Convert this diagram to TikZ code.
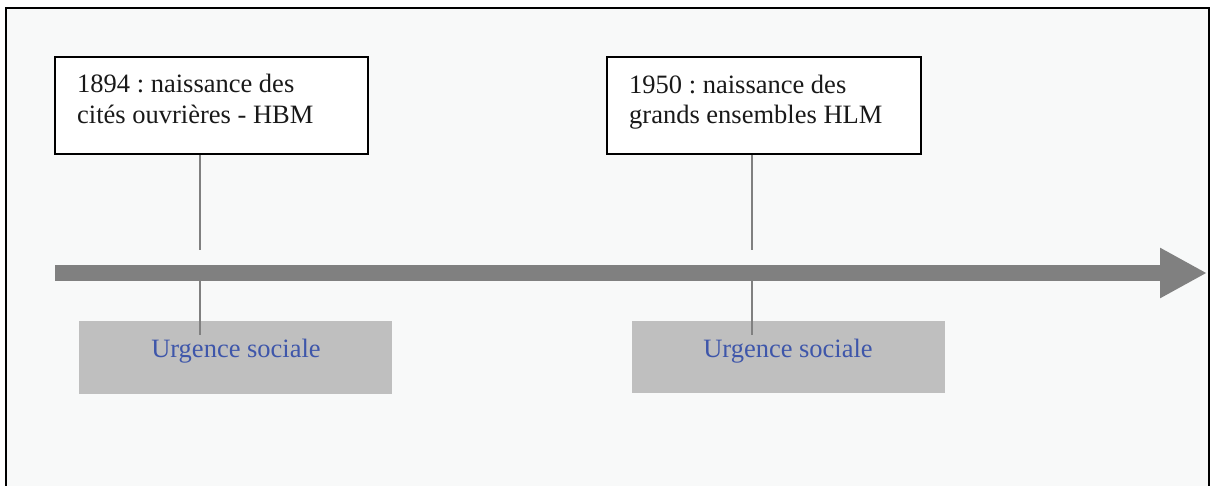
\documentclass[tikz,border=0pt]{standalone}
\usepackage{fontspec}
\setmainfont{Liberation Serif}
\frenchspacing
\usetikzlibrary{arrows.meta}
\definecolor{bgc}{RGB}{248,249,249}
\definecolor{barc}{RGB}{128,128,128}
\definecolor{linec}{RGB}{128,128,128}
\definecolor{grayboxc}{RGB}{191,191,191}
\definecolor{bluetxt}{RGB}{62,86,170}
\tikzset{
  evbox/.style={draw=black, fill=white, line width=1.5pt, inner sep=0pt},
  evtext/.style={anchor=base west, inner sep=0pt, align=left,
    font=\fontsize{26.5}{30.5}\selectfont, text=black!90},
  graybox/.style={fill=grayboxc, draw=none, inner sep=0pt},
  graytext/.style={anchor=base, inner sep=0pt, font=\fontsize{26.5}{30.5}\selectfont, text=bluetxt},
  conn/.style={draw=linec, line width=1.3pt},
  timeline/.style={draw=barc, line width=16pt, -{Triangle[length=47pt,width=47pt]}}
}
\begin{document}
\begin{tikzpicture}[x=1pt,y=-1pt]
\useasboundingbox (0,0) rectangle (1215,485);
\fill[white] (0,0) rectangle (1215,485);
\fill[bgc] (6,8) rectangle (1209,490);
\draw[black, line width=2pt] (6,490) -- (6,8) -- (1209,8) -- (1209,490);

% timeline
\coordinate (tstart) at (55,273);
\coordinate (tend) at (1207,273);
\draw[timeline] (tstart) -- (tend);

% event boxes
\node[evbox, minimum width=313pt, minimum height=97pt] (b1) at (211.5,105.5) {};
\node[evtext] (t1) at (77,123) {1894 : naissance des\\cités ouvrières - HBM};
\node[evbox, minimum width=314pt, minimum height=97pt] (b2) at (764,105.5) {};
\node[evtext] (t2) at (629,123.5) {1950 : naissance des\\grands ensembles HLM};

% gray boxes
\node[graybox, minimum width=313pt, minimum height=73pt] (g1) at (235.5,357.5) {};
\node[graytext] (u1) at (236,357) {Urgence sociale};
\node[graybox, minimum width=313pt, minimum height=72pt] (g2) at (788.5,357) {};
\node[graytext] (u2) at (788,357) {Urgence sociale};

% connectors
\coordinate (k1a) at (200,250);
\coordinate (k1b) at (200,281);
\coordinate (k1c) at (200,335);
\coordinate (k2a) at (752,250);
\coordinate (k2b) at (752,281);
\coordinate (k2c) at (752,335);
\draw[conn] (b1.south -| k1a) -- (k1a);
\draw[conn] (k1b) -- (k1c);
\draw[conn] (b2.south -| k2a) -- (k2a);
\draw[conn] (k2b) -- (k2c);
\end{tikzpicture}
\end{document}
